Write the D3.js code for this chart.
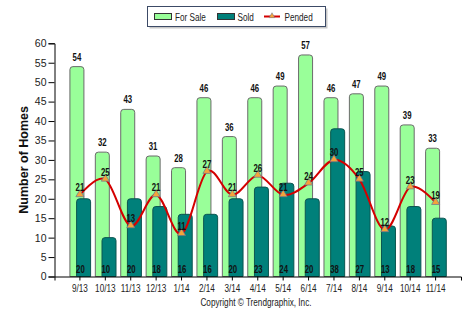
<!DOCTYPE html>
<html>
<head>
<meta charset="utf-8">
<script src="https://cdn.jsdelivr.net/npm/d3@7"></script>
<style>
  body { margin: 0; background: #fff; }
  svg text { font-family: "Liberation Sans", Arial, sans-serif; }
</style>
</head>
<body>
<div id="chart"></div>
<script>
const width = 473;
const height = 326;

const months = ["9/13", "10/13", "11/13", "12/13", "1/14", "2/14", "3/14", "4/14",
    "5/14", "6/14", "7/14", "8/14", "9/14", "10/14", "11/14"];
const forSale = [54, 32, 43, 31, 28, 46, 36, 46, 49, 57, 46, 47, 49, 39, 33];
const sold = [20, 10, 20, 18, 16, 16, 20, 23, 24, 20, 38, 27, 13, 18, 15];
const pended = [21, 25, 13, 21, 11, 27, 21, 26, 21, 24, 30, 25, 12, 23, 19];
const yTicks = [0, 5, 10, 15, 20, 25, 30, 35, 40, 45, 50, 55, 60];

const plotLeft = 54.5;
const plotRight = 461;
const plotTop = 43.3;
const plotBottom = 276.5;

const saleColor = "#99ff99";
const soldColor = "#00807a";
const pendColor = "#d40000";
const squeeze = 0.78;   // narrow text look

const svg = d3.select("#chart").append("svg")
    .attr("width", width)
    .attr("height", height);

const x = d3.scaleBand()
    .domain(months)
    .range([plotLeft, plotRight])
    .paddingInner(0)
    .paddingOuter(0.5);
const bw = x.bandwidth();
const cx = d => x(d) + bw / 2;

const y = d3.scaleLinear()
    .domain([0, 60])
    .range([plotBottom, plotTop]);

// bar with rounded top corners
function topRounded(x0, x1, yTop, yBase, r) {
    const rr = Math.min(r, (yBase - yTop) / 2);
    return `M${x0},${yBase}V${yTop + rr}Q${x0},${yTop} ${x0 + rr},${yTop}` +
        `H${x1 - rr}Q${x1},${yTop} ${x1},${yTop + rr}V${yBase}Z`;
}

// place a text at (px,py) squeezed horizontally
function at(px, py) {
    return `translate(${px},${py}) scale(${squeeze},1)`;
}

// for sale bars (behind)
const saleW = 14;
const saleOff = -10;
svg.append("g").selectAll("path")
    .data(months)
    .join("path")
    .attr("d", (d, i) => topRounded(cx(d) + saleOff, cx(d) + saleOff + saleW, y(forSale[i]), plotBottom, 3))
    .attr("fill", saleColor)
    .attr("stroke", "#6b6b6b")
    .attr("stroke-width", 1);

// sold bars
const soldOff = -3.3;
svg.append("g").selectAll("path")
    .data(months)
    .join("path")
    .attr("d", (d, i) => topRounded(cx(d) + soldOff, cx(d) + soldOff + saleW, y(sold[i]), plotBottom, 3))
    .attr("fill", soldColor)
    .attr("stroke", "#0b5550")
    .attr("stroke-width", 1);

// axes
const yAxis = svg.append("g")
    .attr("transform", `translate(${plotLeft},0)`)
    .call(d3.axisLeft(y).tickValues(yTicks).tickSize(6).tickPadding(2));
yAxis.select(".domain").attr("stroke", "#000");
yAxis.selectAll("text")
    .attr("font-size", 10.5)
    .attr("fill", "#222");

const xAxis = svg.append("g")
    .attr("transform", `translate(0,${plotBottom})`)
    .call(d3.axisBottom(x).tickSizeInner(4).tickSizeOuter(4).tickPadding(4));
xAxis.select(".domain").attr("stroke", "#000");
xAxis.selectAll("text")
    .attr("font-size", 10.5)
    .attr("fill", "#222")
    .attr("transform", `scale(${squeeze},1)`);

// for sale labels
svg.append("g").selectAll("text")
    .data(months)
    .join("text")
    .attr("transform", (d, i) => at(cx(d) + saleOff + saleW / 2, y(forSale[i]) - 6))
    .attr("text-anchor", "middle")
    .attr("font-size", 10)
    .attr("font-weight", "bold")
    .attr("fill", "#111")
    .text((d, i) => forSale[i]);

// sold labels
svg.append("g").selectAll("text")
    .data(months)
    .join("text")
    .attr("transform", d => at(cx(d) + 0.5, plotBottom - 4))
    .attr("text-anchor", "middle")
    .attr("font-size", 10)
    .attr("font-weight", "bold")
    .attr("fill", "#111")
    .text((d, i) => sold[i]);

// pended line
const line = d3.line()
    .x(d => cx(d.m))
    .y(d => y(d.v))
    .curve(d3.curveCardinal.tension(0));
const pendData = months.map((m, i) => ({ m: m, v: pended[i] }));
svg.append("path")
    .datum(pendData)
    .attr("d", line)
    .attr("fill", "none")
    .attr("stroke", pendColor)
    .attr("stroke-width", 2);

const tri = d3.symbol().type(d3.symbolTriangle).size(28);
svg.append("g").selectAll("path")
    .data(pendData)
    .join("path")
    .attr("d", tri)
    .attr("transform", d => `translate(${cx(d.m)},${y(d.v) - 0.5})`)
    .attr("fill", "#f4a43a")
    .attr("stroke", "#6a7390")
    .attr("stroke-width", 0.7);

svg.append("g").selectAll("text")
    .data(pendData)
    .join("text")
    .attr("transform", d => at(cx(d.m), y(d.v) - 3.5))
    .attr("text-anchor", "middle")
    .attr("font-size", 10)
    .attr("font-weight", "bold")
    .attr("fill", "#111")
    .text(d => d.v);

// y axis title
svg.append("text")
    .attr("transform", `translate(28,${(plotTop + plotBottom) / 2}) rotate(-90)`)
    .attr("text-anchor", "middle")
    .attr("font-size", 12.5)
    .attr("font-weight", "bold")
    .attr("fill", "#111")
    .text("Number of Homes");

// copyright
svg.append("text")
    .attr("transform", at(256, 306))
    .attr("text-anchor", "middle")
    .attr("font-size", 10.5)
    .attr("fill", "#222")
    .text("Copyright \u00a9 Trendgraphix, Inc.");

// legend
const legend = svg.append("g");
legend.append("rect")
    .attr("x", 149.5).attr("y", 8.5)
    .attr("width", 178).attr("height", 20)
    .attr("fill", "#c8c8c8");
legend.append("rect")
    .attr("x", 147.5).attr("y", 6.5)
    .attr("width", 178).attr("height", 20)
    .attr("fill", "#fff")
    .attr("stroke", "#3c4a66")
    .attr("stroke-width", 1);

legend.append("rect")
    .attr("x", 154.5).attr("y", 13.5)
    .attr("width", 17).attr("height", 6)
    .attr("fill", saleColor).attr("stroke", "#333");
legend.append("text")
    .attr("transform", at(175, 20.5))
    .attr("font-size", 10.5).attr("fill", "#222")
    .text("For Sale");

legend.append("rect")
    .attr("x", 217.5).attr("y", 13.5)
    .attr("width", 17).attr("height", 6)
    .attr("fill", soldColor).attr("stroke", "#333");
legend.append("text")
    .attr("transform", at(237.5, 20.5))
    .attr("font-size", 10.5).attr("fill", "#222")
    .text("Sold");

legend.append("line")
    .attr("x1", 264).attr("x2", 280)
    .attr("y1", 16.5).attr("y2", 16.5)
    .attr("stroke", pendColor).attr("stroke-width", 2);
legend.append("path")
    .attr("d", d3.symbol().type(d3.symbolTriangle).size(14))
    .attr("transform", "translate(272,16)")
    .attr("fill", "#f4a43a")
    .attr("stroke", "#6a7390")
    .attr("stroke-width", 0.5);
legend.append("text")
    .attr("transform", at(284.5, 20.5))
    .attr("font-size", 10.5).attr("fill", "#222")
    .text("Pended");
</script>
</body>
</html>
